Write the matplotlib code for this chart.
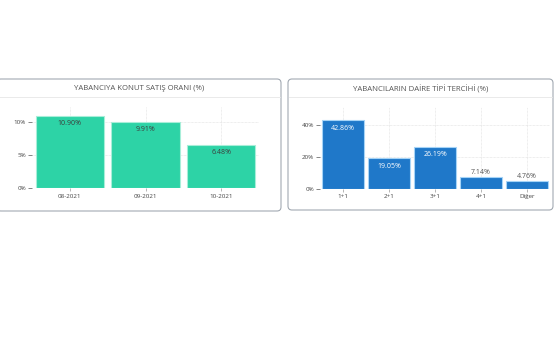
import matplotlib.pyplot as plt
from matplotlib.patches import FancyBboxPatch

# data
months = ['08-2021', '09-2021', '10-2021']
sales_ratio = [10.90, 9.91, 6.48]
sales_labels = ['10.90%', '9.91%', '6.48%']

room_types = ['1+1', '2+1', '3+1', '4+1', 'Diğer']
room_share = [42.86, 19.05, 26.19, 7.14, 4.76]
room_labels = ['42.86%', '19.05%', '26.19%', '7.14%', '4.76%']

plt.rcParams['font.family'] = ['Open Sans', 'DejaVu Sans']

W, H = 555, 355
fig = plt.figure(figsize=(W / 100, H / 100), dpi=100)
fig.patch.set_facecolor('white')

# background axes in pixel units, for the panel frames
bg = fig.add_axes([0, 0, 1, 1])
bg.set_xlim(0, W)
bg.set_ylim(H, 0)
bg.axis('off')


def panel(x0, y0, x1, y1, title):
    box = FancyBboxPatch((x0, y0), x1 - x0, y1 - y0,
                         boxstyle='round,pad=0,rounding_size=4',
                         facecolor='white', edgecolor='#a2a9b2', linewidth=0.8)
    bg.add_patch(box)
    bg.plot([x0 + 1, x1 - 1], [97, 97], color='#e6e6e6', linewidth=0.6)
    bg.text((x0 + x1) / 2, 89, title, ha='center', va='center',
            fontsize=5.6, color='#555555')


panel(-3, 79, 281, 211, 'YABANCIYA KONUT SATIŞ ORANI (%)')
panel(288, 79, 553, 210, 'YABANCILARIN DAİRE TİPİ TERCİHİ (%)')


def px_axes(x0, y0, x1, y1):
    return fig.add_axes([x0 / W, 1 - y1 / H, (x1 - x0) / W, (y1 - y0) / H])


def style(ax, ymax, yticks):
    ax.set_ylim(0, ymax)
    ax.set_yticks(yticks)
    ax.set_yticklabels(['%d%%' % t for t in yticks])
    for s in ax.spines.values():
        s.set_visible(False)
    ax.set_facecolor('none')
    ax.tick_params(axis='both', labelsize=4.5, colors='#444444',
                   length=2.5, width=0.5, pad=1.5)
    ax.tick_params(axis='y', length=3, color='#555555')
    ax.tick_params(axis='x', color='#999999')
    ax.grid(True, color='#dddddd', linewidth=0.5, linestyle=(0, (1, 1)))
    ax.set_axisbelow(True)


# left chart
ax1 = px_axes(32, 107, 259, 188.3)
x1 = list(range(len(months)))
ax1.bar(x1, sales_ratio, width=0.9, color='#2dd3a6',
        edgecolor='#a8eed9', linewidth=0.8)
ax1.set_xlim(-0.5, len(months) - 0.5)
ax1.set_xticks(x1)
ax1.set_xticklabels(months)
style(ax1, 12.19, [0, 5, 10])
for xi, v, lab in zip(x1, sales_ratio, sales_labels):
    ax1.annotate(lab, (xi, v), xytext=(0, -3), textcoords='offset points',
                 ha='center', va='top', fontsize=5, color='#3c3c3c')

# right chart
ax2 = px_axes(320, 107, 550, 188.7)
x2 = list(range(len(room_types)))
ax2.bar(x2, room_share, width=0.9, color='#1f78c9',
        edgecolor='#a6d4f7', linewidth=0.8)
ax2.set_xlim(-0.5, len(room_types) - 0.5)
ax2.set_xticks(x2)
ax2.set_xticklabels(room_types)
style(ax2, 51.3, [0, 20, 40])
for xi, v, lab in zip(x2, room_share, room_labels):
    if v > 10:
        ax2.annotate(lab, (xi, v), xytext=(0, -3), textcoords='offset points',
                     ha='center', va='top', fontsize=5, color='white')
    else:
        ax2.annotate(lab, (xi, v), xytext=(0, 1), textcoords='offset points',
                     ha='center', va='bottom', fontsize=5, color='#555555')

fig.savefig('out.png', dpi=100)
